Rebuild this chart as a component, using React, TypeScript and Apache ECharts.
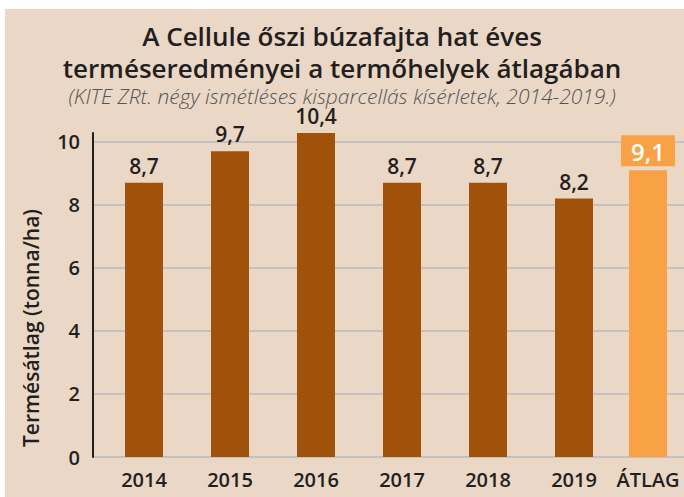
import React, { useEffect, useRef } from "react";
import * as echarts from "echarts";

const years = ["2014", "2015", "2016", "2017", "2018", "2019"];
const yearValues = [8.7, 9.7, 10.4, 8.7, 8.7, 8.2];
const avgCategory = ["ÁTLAG"];
const avgValues = [9.1];
const yTicks = [0, 2, 4, 6, 8, 10];

const TITLE = "A Cellule őszi búzafajta hat éves\nterméseredményei a termőhelyek átlagában";
const SUBTITLE = "(KITE ZRt. négy ismétléses kisparcellás kísérletek, 2014-2019.)";
const Y_NAME = "Termésátlag (tonna/ha)";

const FONT = "Open Sans";
const TEXT = "#231f20";
const BROWN = "#a0520a";
const ORANGE = "#f9a145";
const BG = "#ead7c6";
const GRID = "#c4c1c0";
const YMAX = 10.28;

const fmt = (v: number) => v.toFixed(1).replace(".", ",");

export default function App() {
  const ref = useRef<HTMLDivElement>(null);
  useEffect(() => {
    const chart = echarts.init(ref.current!, null, { renderer: "svg" });
    const top = 133;
    const bottom = 40;
    chart.setOption({
      animation: false,
      backgroundColor: "#ffffff",
      graphic: [
        { type: "rect", left: 5, top: 9, shape: { width: 679, height: 488 }, style: { fill: BG }, z: -10, silent: true },
      ],
      title: {
        text: TITLE,
        subtext: SUBTITLE,
        left: "center",
        top: 15,
        itemGap: 1,
        textStyle: { fontFamily: FONT, fontSize: 26, fontWeight: 600, color: TEXT, lineHeight: 32 },
        subtextStyle: { fontFamily: FONT, fontSize: 21, fontStyle: "italic", fontWeight: 300, color: "#555555", lineHeight: 21 },
      },
      grid: [
        { left: 93, right: 0, top, bottom },
        { left: 101, width: 516, top, bottom },
        { left: 617, width: 62, top, bottom },
      ],
      xAxis: [
        { type: "category", gridIndex: 0, data: [], show: false },
        {
          type: "category",
          gridIndex: 1,
          data: years,
          axisLine: { show: false },
          axisTick: { show: false },
          axisLabel: { fontFamily: FONT, fontSize: 20, fontWeight: 600, color: TEXT, margin: 12 },
        },
        {
          type: "category",
          gridIndex: 2,
          data: avgCategory,
          axisLine: { show: false },
          axisTick: { show: false },
          axisLabel: { fontFamily: FONT, fontSize: 20, fontWeight: 600, color: TEXT, margin: 12 },
        },
      ],
      yAxis: [
        {
          type: "value",
          gridIndex: 0,
          min: yTicks[0],
          max: YMAX,
          interval: yTicks[1] - yTicks[0],
          name: Y_NAME,
          nameLocation: "middle",
          nameGap: 52,
          nameTextStyle: { fontFamily: FONT, fontSize: 21, fontWeight: 600, color: TEXT, padding: [0, 66, 0, 0] },
          axisLine: { show: true, lineStyle: { color: TEXT, width: 2 } },
          axisTick: { show: false },
          axisLabel: {
            fontFamily: FONT,
            fontSize: 20,
            fontWeight: 600,
            color: TEXT,
            margin: 13,
            showMaxLabel: false,
            formatter: (v: number) => (yTicks.includes(v) ? String(v) : ""),
          },
          splitLine: { show: true, showMaxLine: false, lineStyle: { color: GRID, width: 2 } },
        },
        { type: "value", gridIndex: 1, min: 0, max: YMAX, show: false, splitLine: { show: false } },
        { type: "value", gridIndex: 2, min: 0, max: YMAX, show: false, splitLine: { show: false } },
      ],
      series: [
        {
          type: "bar",
          xAxisIndex: 1,
          yAxisIndex: 1,
          data: yearValues,
          barWidth: 38,
          itemStyle: { color: BROWN },
          label: {
            show: true,
            position: "top",
            distance: 8,
            formatter: (p: any) => fmt(p.value),
            fontFamily: FONT,
            fontSize: 21,
            fontWeight: 600,
            color: TEXT,
            lineHeight: 18,
          },
        },
        {
          type: "bar",
          xAxisIndex: 2,
          yAxisIndex: 2,
          data: avgValues,
          barWidth: 38,
          itemStyle: { color: ORANGE },
          label: {
            show: true,
            position: "top",
            distance: 4,
            formatter: (p: any) => fmt(p.value),
            fontFamily: FONT,
            fontSize: 24,
            fontWeight: 600,
            color: "#ffffff",
            backgroundColor: ORANGE,
            lineHeight: 27,
            padding: [3, 10, 1, 10],
          },
        },
      ],
    });
    return () => chart.dispose();
  }, []);
  return (
    <div
      ref={ref}
      style={{ position: "fixed", left: 0, top: 0, width: 684, height: 497 }}
    />
  );
}
